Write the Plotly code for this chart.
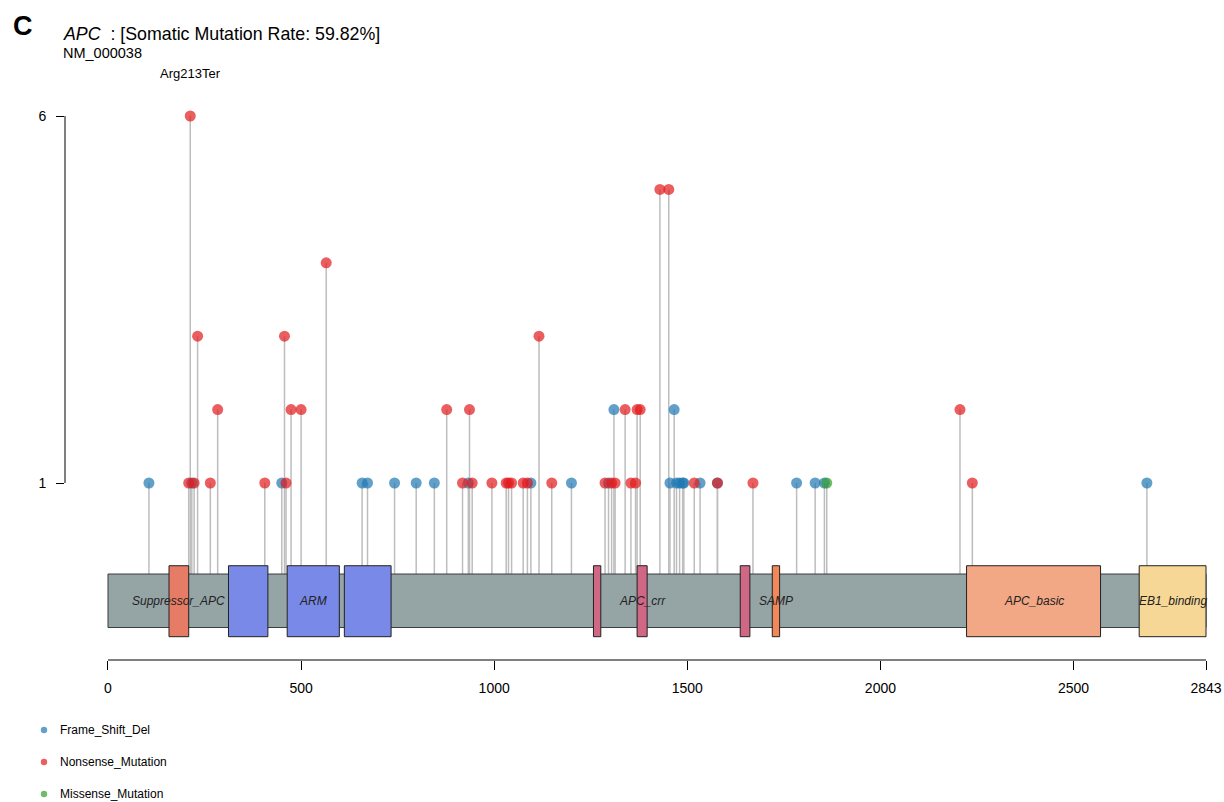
import plotly.graph_objects as go

# ---------------- data ----------------
gene = "APC"
refseq = "NM_000038"
mutation_rate = "59.82%"
protein_length = 2843

fs_pos = [106, 217, 450, 658, 672, 742, 798, 845, 933, 1095, 1200, 1296, 1310,
          1455, 1466, 1472, 1480, 1488, 1491, 1533, 1578, 1783, 1831, 1855, 2690]
fs_count = [1, 1, 1, 1, 1, 1, 1, 1, 1, 1, 1, 1, 2,
            1, 2, 1, 1, 1, 1, 1, 1, 1, 1, 1, 1]

ns_pos = [209, 213, 223, 232, 265, 284, 406, 457, 461, 474, 500, 565, 877, 918,
          936, 943, 994, 1031, 1037, 1045, 1075, 1086, 1116, 1149, 1287, 1304,
          1313, 1339, 1354, 1366, 1370, 1378, 1429, 1452, 1518, 1578, 1670,
          2206, 2238]
ns_count = [1, 6, 1, 3, 1, 2, 1, 3, 1, 2, 2, 4, 2, 1,
            2, 1, 1, 1, 1, 1, 1, 1, 3, 1, 1, 1,
            1, 2, 1, 1, 2, 2, 5, 5, 1, 1, 1,
            2, 1]

ms_pos = [1861]
ms_count = [1]

classes = ["Frame_Shift_Del", "Nonsense_Mutation", "Missense_Mutation"]
class_colors = ["rgba(31,120,180,0.7)", "rgba(227,26,28,0.7)", "rgba(51,160,44,0.7)"]

domain_names = ["Suppressor_APC", "ARM", "ARM", "ARM", "APC_crr", "APC_crr",
                "APC_crr", "SAMP", "APC_basic", "EB1_binding"]
domain_start = [158, 312, 464, 612, 1257, 1370, 1637, 1720, 2223, 2670]
domain_end = [209, 414, 599, 733, 1276, 1396, 1662, 1739, 2570, 2843]
domain_labelled = [True, False, True, False, False, True, False, True, True, True]
domain_palette = {"Suppressor_APC": "#E67C65", "ARM": "#7889E8",
                  "APC_crr": "#CF6785", "SAMP": "#F2885A",
                  "APC_basic": "#F2A785", "EB1_binding": "#F6D795"}

x_ticks = [0, 500, 1000, 1500, 2000, 2500, 2843]
y_ticks = [1, 6]

top_label = "Arg213Ter"
top_label_pos = 213
top_label_count = 6

# ---------------- layout constants ----------------
BAR_TOP, BAR_BOT = -0.24, -0.969
DOM_TOP, DOM_BOT = -0.127, -1.094
LABEL_Y = -0.604
FONT = "Liberation Sans, Arial, sans-serif"

fig = go.Figure()

# stems
sx, sy = [], []
for pos_list, cnt_list in [(fs_pos, fs_count), (ns_pos, ns_count), (ms_pos, ms_count)]:
    for p, c in zip(pos_list, cnt_list):
        sx += [p, p, None]
        sy += [BAR_TOP, c, None]
fig.add_trace(go.Scatter(x=sx, y=sy, mode="lines",
                         line=dict(color="#BDBDBD", width=1.5),
                         hoverinfo="skip", showlegend=False))

# points
for name, col, pos_list, cnt_list in zip(classes, class_colors,
                                         [fs_pos, ns_pos, ms_pos],
                                         [fs_count, ns_count, ms_count]):
    fig.add_trace(go.Scatter(x=pos_list, y=cnt_list, mode="markers", name=name,
                             marker=dict(size=11, color=col, line=dict(width=0)),
                             showlegend=False))

# protein bar
fig.add_shape(type="rect", xref="x", yref="y", x0=0, x1=protein_length,
              y0=BAR_BOT, y1=BAR_TOP, fillcolor="#95A5A6",
              line=dict(color="#3A3A3A", width=1))
# domains
for n, s, e, lab in zip(domain_names, domain_start, domain_end, domain_labelled):
    fig.add_shape(type="rect", xref="x", yref="y", x0=s, x1=e,
                  y0=DOM_BOT, y1=DOM_TOP, fillcolor=domain_palette[n],
                  line=dict(color="#222222", width=1))
for n, s, e, lab in zip(domain_names, domain_start, domain_end, domain_labelled):
    if lab:
        fig.add_annotation(x=(s + e) / 2, y=LABEL_Y, xref="x", yref="y",
                           text="<i>%s</i>" % n, showarrow=False,
                           font=dict(family=FONT, size=12, color="#222222"))

# axis lines
fig.add_shape(type="line", xref="x", yref="paper", x0=0, x1=protein_length,
              y0=0, y1=0, line=dict(color="black", width=1))
fig.add_shape(type="line", xref="paper", yref="y", x0=0, x1=0,
              y0=y_ticks[0], y1=y_ticks[-1], line=dict(color="black", width=1))

# top label
fig.add_annotation(x=top_label_pos, y=top_label_count, xref="x", yref="y",
                   text=top_label, showarrow=False, yshift=43,
                   font=dict(family=FONT, size=13, color="black"))

# titles
fig.add_annotation(xref="paper", yref="paper", x=-0.047, y=1.133,
                   xanchor="left", yanchor="middle", text="<b>C</b>",
                   showarrow=False, font=dict(family=FONT, size=27, color="black"))
fig.add_annotation(xref="paper", yref="paper", x=-0.0033, y=1.118,
                   xanchor="left", yanchor="middle",
                   text="<i>%s</i>  : [Somatic Mutation Rate: %s]" % (gene, mutation_rate),
                   showarrow=False, font=dict(family=FONT, size=17.8, color="black"))
fig.add_annotation(xref="paper", yref="paper", x=-0.0033, y=1.084,
                   xanchor="left", yanchor="middle", text=refseq,
                   showarrow=False, font=dict(family=FONT, size=14.5, color="black"))

# legend (manual)
leg_y_px = [730, 762, 794]
for name, col, ypx in zip(classes, class_colors, leg_y_px):
    yp = (660 - ypx) / 560
    fig.add_shape(type="circle", xref="paper", yref="paper",
                  xsizemode="pixel", ysizemode="pixel",
                  xanchor=(44 - 65) / 1150, yanchor=yp,
                  x0=-3.2, x1=3.2, y0=-3.2, y1=3.2,
                  fillcolor=col, line=dict(width=0))
    fig.add_annotation(xref="paper", yref="paper", x=(58 - 65) / 1150, y=yp,
                       xanchor="left", yanchor="middle", text=name, showarrow=False,
                       font=dict(family=FONT, size=12, color="black"))

fig.update_layout(
    width=1224, height=802, autosize=False,
    margin=dict(l=65, r=9, t=100, b=142, autoexpand=False),
    paper_bgcolor="white", plot_bgcolor="white",
    showlegend=False,
    xaxis=dict(range=[-111.3, 2866.3], showgrid=False, zeroline=False,
               showline=False, ticks="outside", ticklen=9, tickwidth=1,
               tickcolor="black", tickvals=x_ticks, automargin=False,
               ticktext=[str(v) for v in x_ticks], ticklabelstandoff=6,
               tickfont=dict(family=FONT, size=14, color="black")),
    yaxis=dict(range=[-1.4114, 6.218], showgrid=False, zeroline=False,
               showline=False, ticks="outside", ticklen=8, tickwidth=1,
               tickcolor="black", tickvals=y_ticks, automargin=False,
               ticktext=[str(v) for v in y_ticks], ticklabelstandoff=7,
               tickfont=dict(family=FONT, size=14, color="black")),
)

fig.write_html("out.html", config={"displayModeBar": False},
               post_script="document.body.style.margin='0';document.body.style.overflow='hidden';")
